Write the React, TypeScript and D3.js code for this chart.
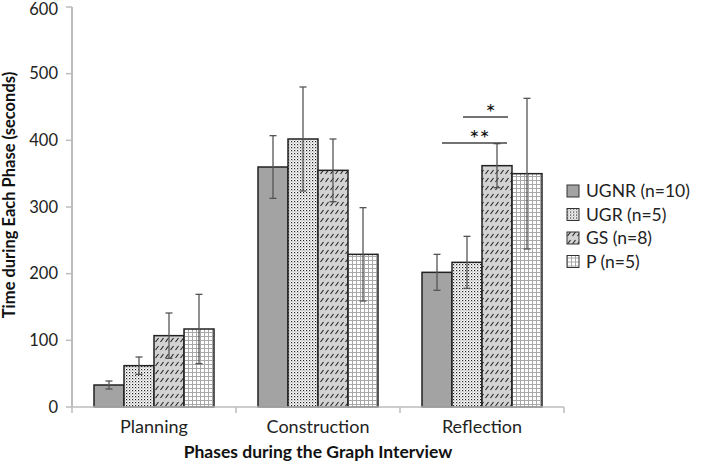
import React from "react";
import * as d3 from "d3";

const phases = ["Planning", "Construction", "Reflection"];
const groups = ["UGNR (n=10)", "UGR (n=5)", "GS (n=8)", "P (n=5)"];
const ugnrMean = [33, 360, 202];
const ugnrErr = [6, 47, 27];
const ugrMean = [62, 402, 217];
const ugrErr = [13, 78, 39];
const gsMean = [107, 355, 362];
const gsErr = [34, 47, 33];
const pMean = [117, 229, 350];
const pErr = [52, 70, 113];
const yTicks = [0, 100, 200, 300, 400, 500, 600];

const means = [ugnrMean, ugrMean, gsMean, pMean];
const errs = [ugnrErr, ugrErr, gsErr, pErr];
const fills = ["#a3a3a3", "url(#dots)", "url(#diag)", "url(#grid)"];

export default function App() {
  const W = 720, H = 465;
  const x0 = d3.scaleBand().domain(phases).range([72, 564]).paddingInner(0).paddingOuter(0);
  const bw = 30;
  const groupW = bw * groups.length;
  const y = d3.scaleLinear().domain([0, 600]).range([407, 7]);
  const barX = (pi: number, gi: number) =>
    (x0(phases[pi]) as number) + (x0.bandwidth() - groupW) / 2 + gi * bw;
  const font = "Lato, 'Open Sans', sans-serif";
  const axisCol = "#bdbdbd";

  const sigLines = [
    { from: 0, to: 2, y: 396, label: "**", dx1: 5, dx2: 10 },
    { from: 1, to: 2, y: 435, label: "*", dx1: -4, dx2: 11 },
  ];

  return (
    <svg width={W} height={H} style={{ display: "block", position: "absolute", left: 0, top: 0 }} fontFamily={font}>
      <defs>
        <pattern id="dots" width="3" height="3" patternUnits="userSpaceOnUse">
          <rect width="3" height="3" fill="#fff" />
          <rect x="0" y="0" width="1.2" height="1.2" fill="#222" />
          <rect x="1.5" y="1.5" width="1" height="1" fill="#666" />
        </pattern>
        <pattern id="diag" width="5" height="8" patternUnits="userSpaceOnUse">
          <rect width="5" height="8" fill="#d3d3d3" />
          <line x1="0.5" y1="6" x2="3.5" y2="2" stroke="#222" strokeWidth="1.1" />
        </pattern>
        <pattern id="grid" width="4" height="4" patternUnits="userSpaceOnUse">
          <rect width="4" height="4" fill="#fff" />
          <line x1="0" y1="0.5" x2="4" y2="0.5" stroke="#a8a8a8" strokeWidth="1" />
          <line x1="0.5" y1="0" x2="0.5" y2="4" stroke="#a8a8a8" strokeWidth="1" />
        </pattern>
      </defs>
      <rect width={W} height={H} fill="#fff" />

      {/* y axis */}
      <line x1={72} x2={72} y1={y(600)} y2={y(0)} stroke={axisCol} strokeWidth={2} />
      {yTicks.map((t) => (
        <g key={t}>
          <line x1={66} x2={72} y1={y(t)} y2={y(t)} stroke={axisCol} strokeWidth={1.5} />
          <text x={58} y={Math.max(y(t), 9)} dy="0.35em" textAnchor="end" fontSize={16.5} fill="#222">
            {t}
          </text>
        </g>
      ))}

      {/* bars */}
      {phases.map((p, pi) =>
        groups.map((g, gi) => (
          <rect
            key={p + g}
            x={barX(pi, gi)}
            y={y(means[gi][pi])}
            width={bw}
            height={y(0) - y(means[gi][pi])}
            fill={fills[gi]}
            stroke="#222"
            strokeWidth={1.5}
          />
        ))
      )}

      {/* x axis */}
      <line x1={72} x2={564} y1={y(0)} y2={y(0)} stroke={axisCol} strokeWidth={1.5} />
      {[0, 1, 2, 3].map((i) => {
        const xx = i < 3 ? (x0(phases[i]) as number) : 564;
        return <line key={i} x1={xx} x2={xx} y1={y(0)} y2={y(0) + 6} stroke={axisCol} strokeWidth={1.5} />;
      })}
      {phases.map((p) => (
        <text key={p} x={(x0(p) as number) + x0.bandwidth() / 2} y={433} textAnchor="middle" fontSize={18} fill="#222">
          {p}
        </text>
      ))}

      {/* error bars */}
      {phases.map((p, pi) =>
        groups.map((g, gi) => {
          const cx = barX(pi, gi) + bw / 2;
          const m = means[gi][pi], e = errs[gi][pi];
          return (
            <g key={"e" + p + g} stroke="#555" strokeWidth={1.3}>
              <line x1={cx} x2={cx} y1={y(m + e)} y2={y(m - e)} />
              <line x1={cx - 3.5} x2={cx + 3.5} y1={y(m + e)} y2={y(m + e)} />
              <line x1={cx - 3.5} x2={cx + 3.5} y1={y(m - e)} y2={y(m - e)} />
            </g>
          );
        })
      )}

      {/* significance */}
      {sigLines.map((s) => {
        const x1 = barX(2, s.from) + bw / 2 + s.dx1;
        const x2 = barX(2, s.to) + bw / 2 + s.dx2;
        return (
          <g key={s.label}>
            <line x1={x1} x2={x2} y1={y(s.y)} y2={y(s.y)} stroke="#444" strokeWidth={1.3} />
            <text x={(x1 + x2) / 2 + 5} y={y(s.y) + 4} textAnchor="middle" fontSize={24} fill="#111">
              {s.label}
            </text>
          </g>
        );
      })}

      {/* legend */}
      {groups.map((g, gi) => (
        <g key={g} transform={`translate(567, ${191 + gi * 23.5})`}>
          <rect x={0} y={-6} width={12} height={12} fill={fills[gi]} stroke="#333" strokeWidth={1} />
          <text x={19} y={0} dy="0.35em" fontSize={17.5} fill="#222">
            {g}
          </text>
        </g>
      ))}

      {/* axis titles */}
      <text transform={`translate(15, 195) rotate(-90)`} textAnchor="middle" fontSize={16.5} fontWeight="bold" fill="#111">
        Time during Each Phase (seconds)
      </text>
      <text x={318} y={458} textAnchor="middle" fontSize={17.5} fontWeight="bold" fill="#111">
        Phases during the Graph Interview
      </text>
    </svg>
  );
}
